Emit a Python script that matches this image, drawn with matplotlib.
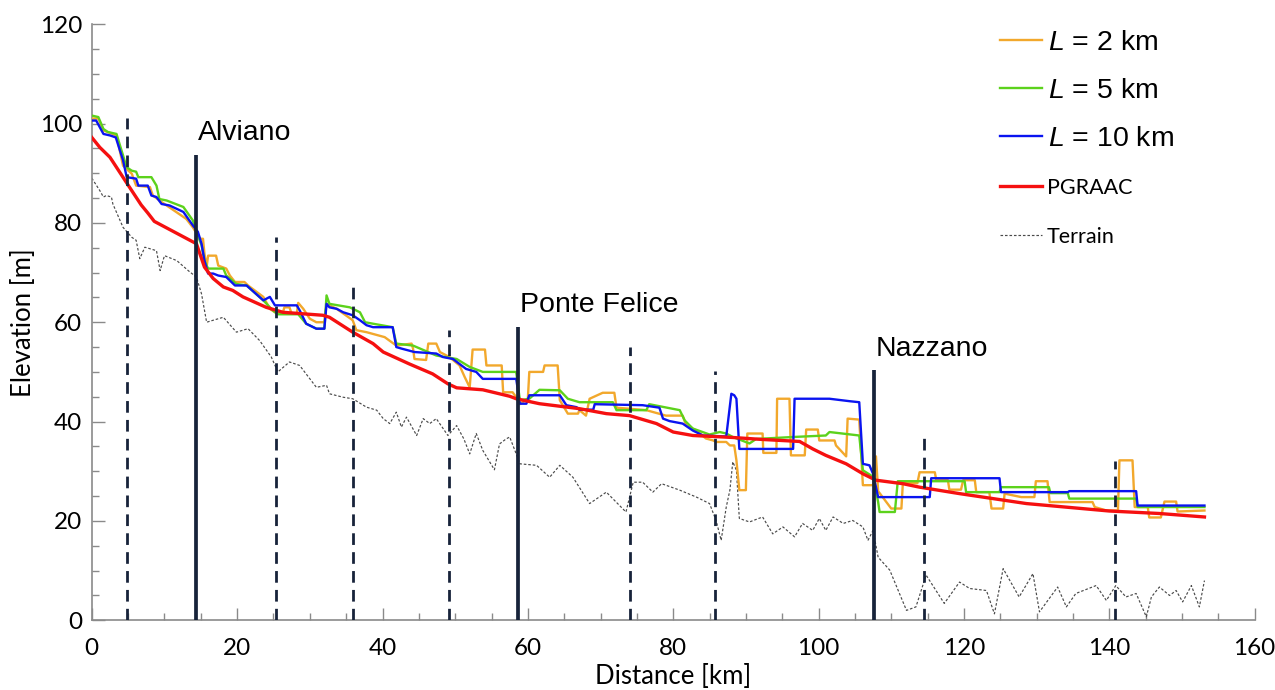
import matplotlib
matplotlib.use("Agg")
import matplotlib.pyplot as plt
from matplotlib.ticker import MultipleLocator

plt.rcParams['mathtext.fontset'] = 'custom'
plt.rcParams['mathtext.it'] = 'Liberation Sans:italic'
plt.rcParams['mathtext.rm'] = 'Liberation Sans'

# water surface profiles (distance km, elevation m)
orange_pts = [(0.0, 101.0), (0.9, 101.0), (1.6, 98.6), (3.4, 97.6), (4.3, 91.5), (5.5, 89.9), (6.1, 87.5),
              (8.0, 87.2), (8.4, 85.5), (9.6, 84.2), (13.0, 80.8), (13.9, 79.1), (14.9, 76.8), (15.3, 76.8),
              (15.5, 73.8), (15.8, 71.1), (16.0, 73.4), (17.1, 73.4), (17.4, 71.4), (18.5, 70.8), (19.0, 69.4),
              (19.7, 68.1), (21.0, 68.1), (21.5, 67.4), (23.6, 65.1), (24.5, 62.7), (25.2, 62.0), (26.3, 62.0),
              (26.5, 63.0), (27.2, 63.0), (27.5, 61.7), (28.2, 61.7), (28.4, 63.9), (29.1, 62.7), (30.0, 60.7),
              (30.9, 60.0), (32.0, 60.0), (32.3, 63.7), (33.7, 62.7), (35.9, 60.4), (36.4, 58.4), (37.8, 58.0),
              (40.3, 57.0), (41.9, 55.3), (44.0, 55.7), (44.2, 54.7), (44.4, 52.6), (46.0, 52.4), (46.3, 55.7),
              (47.4, 55.7), (47.9, 54.0), (49.2, 53.0), (50.6, 51.3), (51.3, 49.0), (52.0, 46.9), (52.4, 54.5),
              (54.1, 54.5), (54.3, 51.3), (56.4, 51.3), (56.6, 45.9), (57.9, 45.9), (58.4, 44.9), (58.9, 43.5),
              (60.0, 44.6), (60.2, 50.0), (62.1, 50.0), (62.3, 51.3), (64.1, 51.3), (64.4, 44.3), (65.5, 41.6),
              (66.9, 41.6), (67.1, 42.3), (68.0, 41.2), (68.5, 44.6), (70.3, 45.8), (71.9, 45.8), (72.2, 42.8),
              (76.3, 42.3), (79.0, 41.2), (81.3, 41.2), (81.8, 39.2), (83.2, 38.2), (84.5, 36.6), (85.5, 36.2),
              (85.9, 35.9), (87.3, 35.9), (87.8, 35.2), (88.4, 35.2), (88.7, 32.2), (89.1, 26.2), (90.0, 26.2),
              (90.2, 37.6), (92.3, 37.6), (92.4, 33.7), (94.2, 33.7), (94.3, 44.6), (96.0, 44.6), (96.2, 33.2),
              (98.1, 33.2), (98.3, 38.4), (99.9, 38.4), (100.1, 36.2), (102.2, 36.2), (102.4, 35.2), (103.8, 33.0),
              (104.0, 40.6), (105.6, 40.4), (106.1, 27.2), (107.5, 27.2), (107.9, 33.0), (108.2, 26.0),
              (110.0, 22.5), (111.4, 22.5), (111.6, 27.6), (113.6, 27.6), (113.9, 29.8), (116.0, 29.8),
              (116.2, 28.2), (117.8, 28.2), (118.0, 26.3), (119.6, 26.3), (119.9, 28.2), (121.5, 28.2),
              (121.7, 25.8), (123.5, 25.8), (123.8, 22.5), (125.4, 22.5), (125.6, 25.5), (127.9, 24.8),
              (129.7, 24.8), (129.9, 28.0), (131.5, 28.0), (131.8, 23.8), (137.7, 23.8), (138.0, 22.8),
              (139.6, 22.1), (141.2, 22.1), (141.4, 32.2), (143.2, 32.2), (143.5, 22.8), (145.3, 22.8),
              (145.5, 20.7), (147.1, 20.7), (147.6, 23.9), (149.2, 23.9), (149.4, 21.9), (153.1, 22.1)]

green_pts = [(0.0, 101.6), (0.9, 101.3), (1.6, 98.9), (2.2, 98.3), (3.4, 97.9), (4.5, 92.6), (4.8, 91.2),
             (5.5, 90.5), (6.1, 90.3), (6.4, 89.2), (8.2, 89.2), (8.9, 87.5), (9.3, 84.8), (10.3, 84.5),
             (12.6, 83.2), (13.9, 80.5), (14.4, 78.2), (15.1, 75.5), (15.5, 72.4), (16.0, 70.8), (18.1, 70.8),
             (18.5, 69.4), (19.9, 67.7), (21.3, 67.4), (23.6, 64.4), (24.9, 62.4), (25.6, 61.6), (28.4, 61.6),
             (29.5, 59.7), (30.9, 58.7), (32.0, 58.7), (32.3, 65.4), (32.7, 63.7), (35.5, 63.0), (36.9, 62.0),
             (37.6, 60.0), (38.7, 59.7), (41.4, 59.0), (41.9, 55.7), (44.2, 55.3), (47.4, 53.3), (50.2, 52.6),
             (52.0, 51.0), (53.8, 50.0), (58.4, 50.0), (58.9, 44.3), (60.2, 44.6), (61.6, 46.4), (64.4, 46.3),
             (65.5, 44.6), (67.1, 43.9), (71.7, 43.9), (72.2, 42.3), (76.3, 42.3), (76.7, 43.5), (80.9, 42.3),
             (81.6, 40.2), (82.7, 38.6), (85.0, 37.4), (86.4, 37.9), (87.3, 37.6), (88.2, 36.9), (90.5, 35.6),
             (91.4, 36.5), (96.5, 36.9), (101.0, 37.2), (101.5, 37.9), (105.6, 37.2), (106.1, 30.2),
             (107.5, 28.9), (108.2, 23.8), (108.4, 21.8), (110.5, 21.8), (110.9, 28.0), (120.1, 28.0),
             (120.3, 25.8), (124.9, 25.8), (125.1, 26.8), (131.7, 26.8), (131.9, 25.6), (134.3, 25.6),
             (134.5, 24.5), (143.7, 24.5), (143.9, 22.8), (153.1, 22.8)]

blue_pts = [(0.0, 100.6), (0.6, 100.6), (1.6, 97.9), (2.5, 97.6), (3.3, 97.2), (4.3, 92.6), (4.8, 89.2),
            (6.1, 88.9), (6.4, 87.5), (7.7, 87.5), (8.2, 85.5), (8.9, 85.2), (9.6, 83.8), (10.7, 83.5),
            (12.6, 82.2), (13.9, 79.5), (14.6, 78.2), (15.1, 75.8), (15.5, 72.4), (16.0, 69.8), (16.7, 69.8),
            (17.4, 69.4), (18.5, 69.1), (19.7, 67.4), (21.3, 67.4), (23.6, 64.4), (24.5, 65.1), (25.2, 63.4),
            (28.2, 63.4), (28.6, 62.4), (29.5, 59.7), (30.9, 58.7), (32.0, 58.7), (32.3, 63.7), (32.7, 63.0),
            (33.7, 62.7), (34.6, 62.0), (35.9, 61.4), (36.9, 60.4), (37.8, 59.4), (38.7, 59.0), (41.4, 59.0),
            (41.9, 55.0), (42.6, 54.7), (44.4, 54.0), (47.4, 53.7), (48.3, 53.0), (49.7, 52.6), (50.6, 51.6),
            (51.5, 50.6), (52.9, 50.0), (53.8, 48.6), (58.4, 48.6), (58.9, 43.6), (59.8, 43.6), (60.2, 45.3),
            (64.4, 45.3), (65.3, 43.3), (66.7, 42.9), (67.1, 42.4), (69.0, 42.4), (69.2, 43.5), (75.8, 43.3),
            (78.1, 42.8), (78.6, 40.6), (79.5, 40.1), (81.3, 39.6), (82.7, 38.2), (84.1, 37.2), (87.3, 37.0),
            (88.0, 45.6), (88.4, 45.3), (88.7, 44.6), (89.1, 34.5), (96.5, 34.5), (96.7, 44.6), (101.5, 44.6),
            (104.3, 44.1), (105.6, 43.9), (106.1, 31.5), (107.0, 31.2), (107.5, 29.5), (108.2, 24.8),
            (115.3, 24.8), (115.5, 28.6), (124.9, 28.6), (125.1, 25.8), (134.3, 25.8), (134.5, 26.0),
            (143.7, 26.0), (143.9, 23.1), (153.1, 23.1)]

red_pts = [(0.0, 97.2), (1.1, 95.2), (2.5, 93.2), (5.0, 87.6), (6.8, 83.6), (7.7, 82.0), (8.6, 80.3),
           (14.4, 75.8), (15.5, 71.1), (16.7, 68.8), (18.1, 67.1), (19.4, 66.4), (20.8, 65.1), (24.0, 63.0),
           (26.3, 62.0), (31.8, 61.4), (32.7, 61.0), (35.9, 58.0), (38.7, 55.7), (40.1, 54.0), (43.7, 51.6),
           (46.9, 49.6), (49.0, 47.6), (50.2, 46.8), (53.8, 46.4), (57.5, 45.1), (58.4, 44.6), (61.6, 43.6),
           (67.1, 42.6), (70.8, 41.6), (74.0, 41.2), (77.7, 39.6), (80.0, 37.9), (82.7, 37.2), (85.5, 37.0),
           (88.2, 36.8), (92.3, 36.4), (97.4, 36.0), (99.2, 34.5), (101.0, 33.2), (103.8, 31.5),
           (106.1, 29.5), (107.9, 28.2), (111.6, 27.5), (113.9, 26.8), (119.4, 25.5), (128.6, 23.5),
           (140.0, 22.0), (146.9, 21.5), (153.1, 20.8)]

terrain_pts = [(0.0, 89.0), (1.1, 86.5), (1.6, 85.2), (2.0, 85.5), (2.7, 85.2), (2.9, 83.8), (4.3, 79.1),
               (5.5, 77.1), (6.1, 76.5), (6.6, 72.8), (7.3, 75.1), (8.9, 74.4), (9.4, 70.4), (10.0, 73.4),
               (11.7, 72.4), (13.5, 70.1), (14.4, 69.1), (15.1, 65.7), (15.8, 60.0), (16.7, 60.4), (18.1, 61.0),
               (19.9, 58.0), (21.5, 58.7), (23.1, 56.3), (24.7, 53.0), (25.6, 50.0), (27.2, 52.0), (28.6, 51.3),
               (30.9, 46.9), (32.3, 47.3), (32.7, 45.6), (34.6, 44.9), (35.9, 44.6), (37.8, 42.9), (39.2, 42.3),
               (40.1, 40.6), (41.0, 39.6), (41.9, 41.9), (42.6, 38.9), (43.3, 40.9), (44.7, 37.2), (45.6, 40.6),
               (46.5, 39.6), (47.4, 40.6), (49.0, 37.2), (50.2, 39.2), (51.2, 36.5), (52.0, 33.5), (52.9, 37.6),
               (53.8, 34.2), (55.4, 30.3), (56.1, 35.5), (57.0, 36.5), (57.5, 36.9), (58.4, 33.5), (58.9, 31.5),
               (61.2, 31.2), (63.0, 28.8), (64.4, 31.2), (66.2, 28.8), (68.5, 23.5), (70.8, 25.8), (73.5, 21.8),
               (74.5, 27.8), (75.8, 27.8), (77.2, 25.8), (78.4, 27.5), (80.9, 26.2), (83.2, 24.8), (85.0, 23.5),
               (85.9, 20.1), (86.6, 16.1), (87.3, 22.8), (87.8, 26.2), (88.2, 31.9), (88.7, 30.2), (89.1, 20.5),
               (90.5, 19.8), (92.3, 20.8), (93.7, 17.4), (95.1, 18.8), (96.7, 16.8), (97.8, 19.5), (99.2, 18.1),
               (100.1, 20.5), (101.0, 18.1), (102.0, 20.8), (103.4, 19.5), (104.7, 20.1), (106.1, 18.8),
               (106.8, 16.1), (107.5, 18.1), (108.2, 12.7), (109.8, 10.1), (112.1, 2.0), (113.4, 2.7),
               (114.8, 9.1), (117.3, 3.4), (119.4, 7.7), (120.8, 6.4), (123.1, 6.0), (124.2, 1.3), (125.4, 10.4),
               (127.6, 4.7), (129.5, 9.4), (130.4, 1.7), (132.9, 6.7), (134.1, 2.7), (135.4, 5.4), (138.2, 7.0),
               (139.6, 4.0), (140.9, 7.0), (142.3, 4.7), (143.7, 5.4), (145.1, 0.7), (145.8, 4.7), (146.9, 6.7),
               (148.3, 5.0), (149.2, 6.0), (150.1, 3.7), (151.3, 7.0), (152.4, 2.7), (153.1, 8.0)]

# dams (solid) and other cross sections (dashed)
dam_names = ["Alviano", "Ponte Felice", "Nazzano"]
dam_x = [14.4, 58.7, 107.6]
dam_top = [93.6, 59.0, 50.3]
label_y = [98.0, 63.4, 54.7]
section_x = [4.8, 25.4, 35.9, 49.1, 74.0, 85.8, 114.5, 140.8]
section_top = [101.2, 77.1, 68.2, 58.4, 55.1, 50.1, 36.8, 32.0]

series_labels = [r"$\it{L}$ = 2 km", r"$\it{L}$ = 5 km", r"$\it{L}$ = 10 km", "PGRAAC", "Terrain"]

axis_grey = "#8a8a8a"
navy = "#17233a"

fig = plt.figure(figsize=(12.75, 6.9), dpi=100)
ax = fig.add_axes([0.072, 0.101, 0.912, 0.864])


def xy(pts):
    return [p[0] for p in pts], [p[1] for p in pts]


l_ter, = ax.plot(*xy(terrain_pts), color="#4a4a4a", lw=0.85, ls=(0, (2.2, 1.6)), zorder=2)
l_or, = ax.plot(*xy(orange_pts), color="#f2a82c", lw=1.7, zorder=3)
l_gr, = ax.plot(*xy(green_pts), color="#5cd21c", lw=1.7, zorder=4)
l_bl, = ax.plot(*xy(blue_pts), color="#0a14f0", lw=1.7, zorder=5)
l_red, = ax.plot(*xy(red_pts), color="#f51010", lw=2.4, zorder=6)

ax.vlines(section_x, 0, section_top, colors=navy, lw=2.0, linestyles=(0, (4.2, 2.6)), zorder=7)
ax.vlines(dam_x, 0, dam_top, colors=navy, lw=2.7, zorder=8)
for name, x, y in zip(dam_names, dam_x, label_y):
    ax.text(x + 0.2, y, name, fontsize=20.5, family="Liberation Sans", va="center", ha="left")

ax.set_xlim(0, 160)
ax.set_ylim(0, 120)
ax.xaxis.set_major_locator(MultipleLocator(20))
ax.xaxis.set_minor_locator(MultipleLocator(5))
ax.yaxis.set_major_locator(MultipleLocator(20))
ax.yaxis.set_minor_locator(MultipleLocator(5))
ax.tick_params(which="both", direction="in", color=axis_grey, width=1)
ax.tick_params(which="major", length=9, labelsize=17.5)
ax.tick_params(axis="x", which="major", pad=12.5)
ax.tick_params(axis="y", which="major", pad=7)
ax.tick_params(which="minor", length=5)
for lab in ax.get_xticklabels() + ax.get_yticklabels():
    lab.set_family("Lato")
for s in ["top", "right"]:
    ax.spines[s].set_visible(False)
for s in ["left", "bottom"]:
    ax.spines[s].set_color(axis_grey)
    ax.spines[s].set_linewidth(1.2)

ax.set_xlabel("Distance [km]", fontsize=18.5, family="Lato", labelpad=4)
ax.set_ylabel("Elevation [m]", fontsize=18.5, family="Lato", labelpad=3)

leg1 = ax.legend([l_or, l_gr, l_bl], series_labels[:3], loc="upper left",
                 bbox_to_anchor=(1000 / 1275, 1 - 30 / 690), bbox_transform=fig.transFigure,
                 frameon=False, fontsize=20.5, borderpad=0, borderaxespad=0,
                 handlelength=1.47, handletextpad=0.2, labelspacing=0.78)
for t in leg1.get_texts():
    t.set_family("Liberation Sans")
ax.add_artist(leg1)

leg2 = ax.legend([l_red, l_ter], series_labels[3:], loc="upper left",
                 bbox_to_anchor=(1000 / 1275, 1 - 178 / 690), bbox_transform=fig.transFigure,
                 frameon=False, fontsize=15.5, borderpad=0, borderaxespad=0,
                 handlelength=1.94, handletextpad=0.24, labelspacing=1.33)
for t in leg2.get_texts():
    t.set_family("Lato")

fig.savefig("out.png", dpi=100)
